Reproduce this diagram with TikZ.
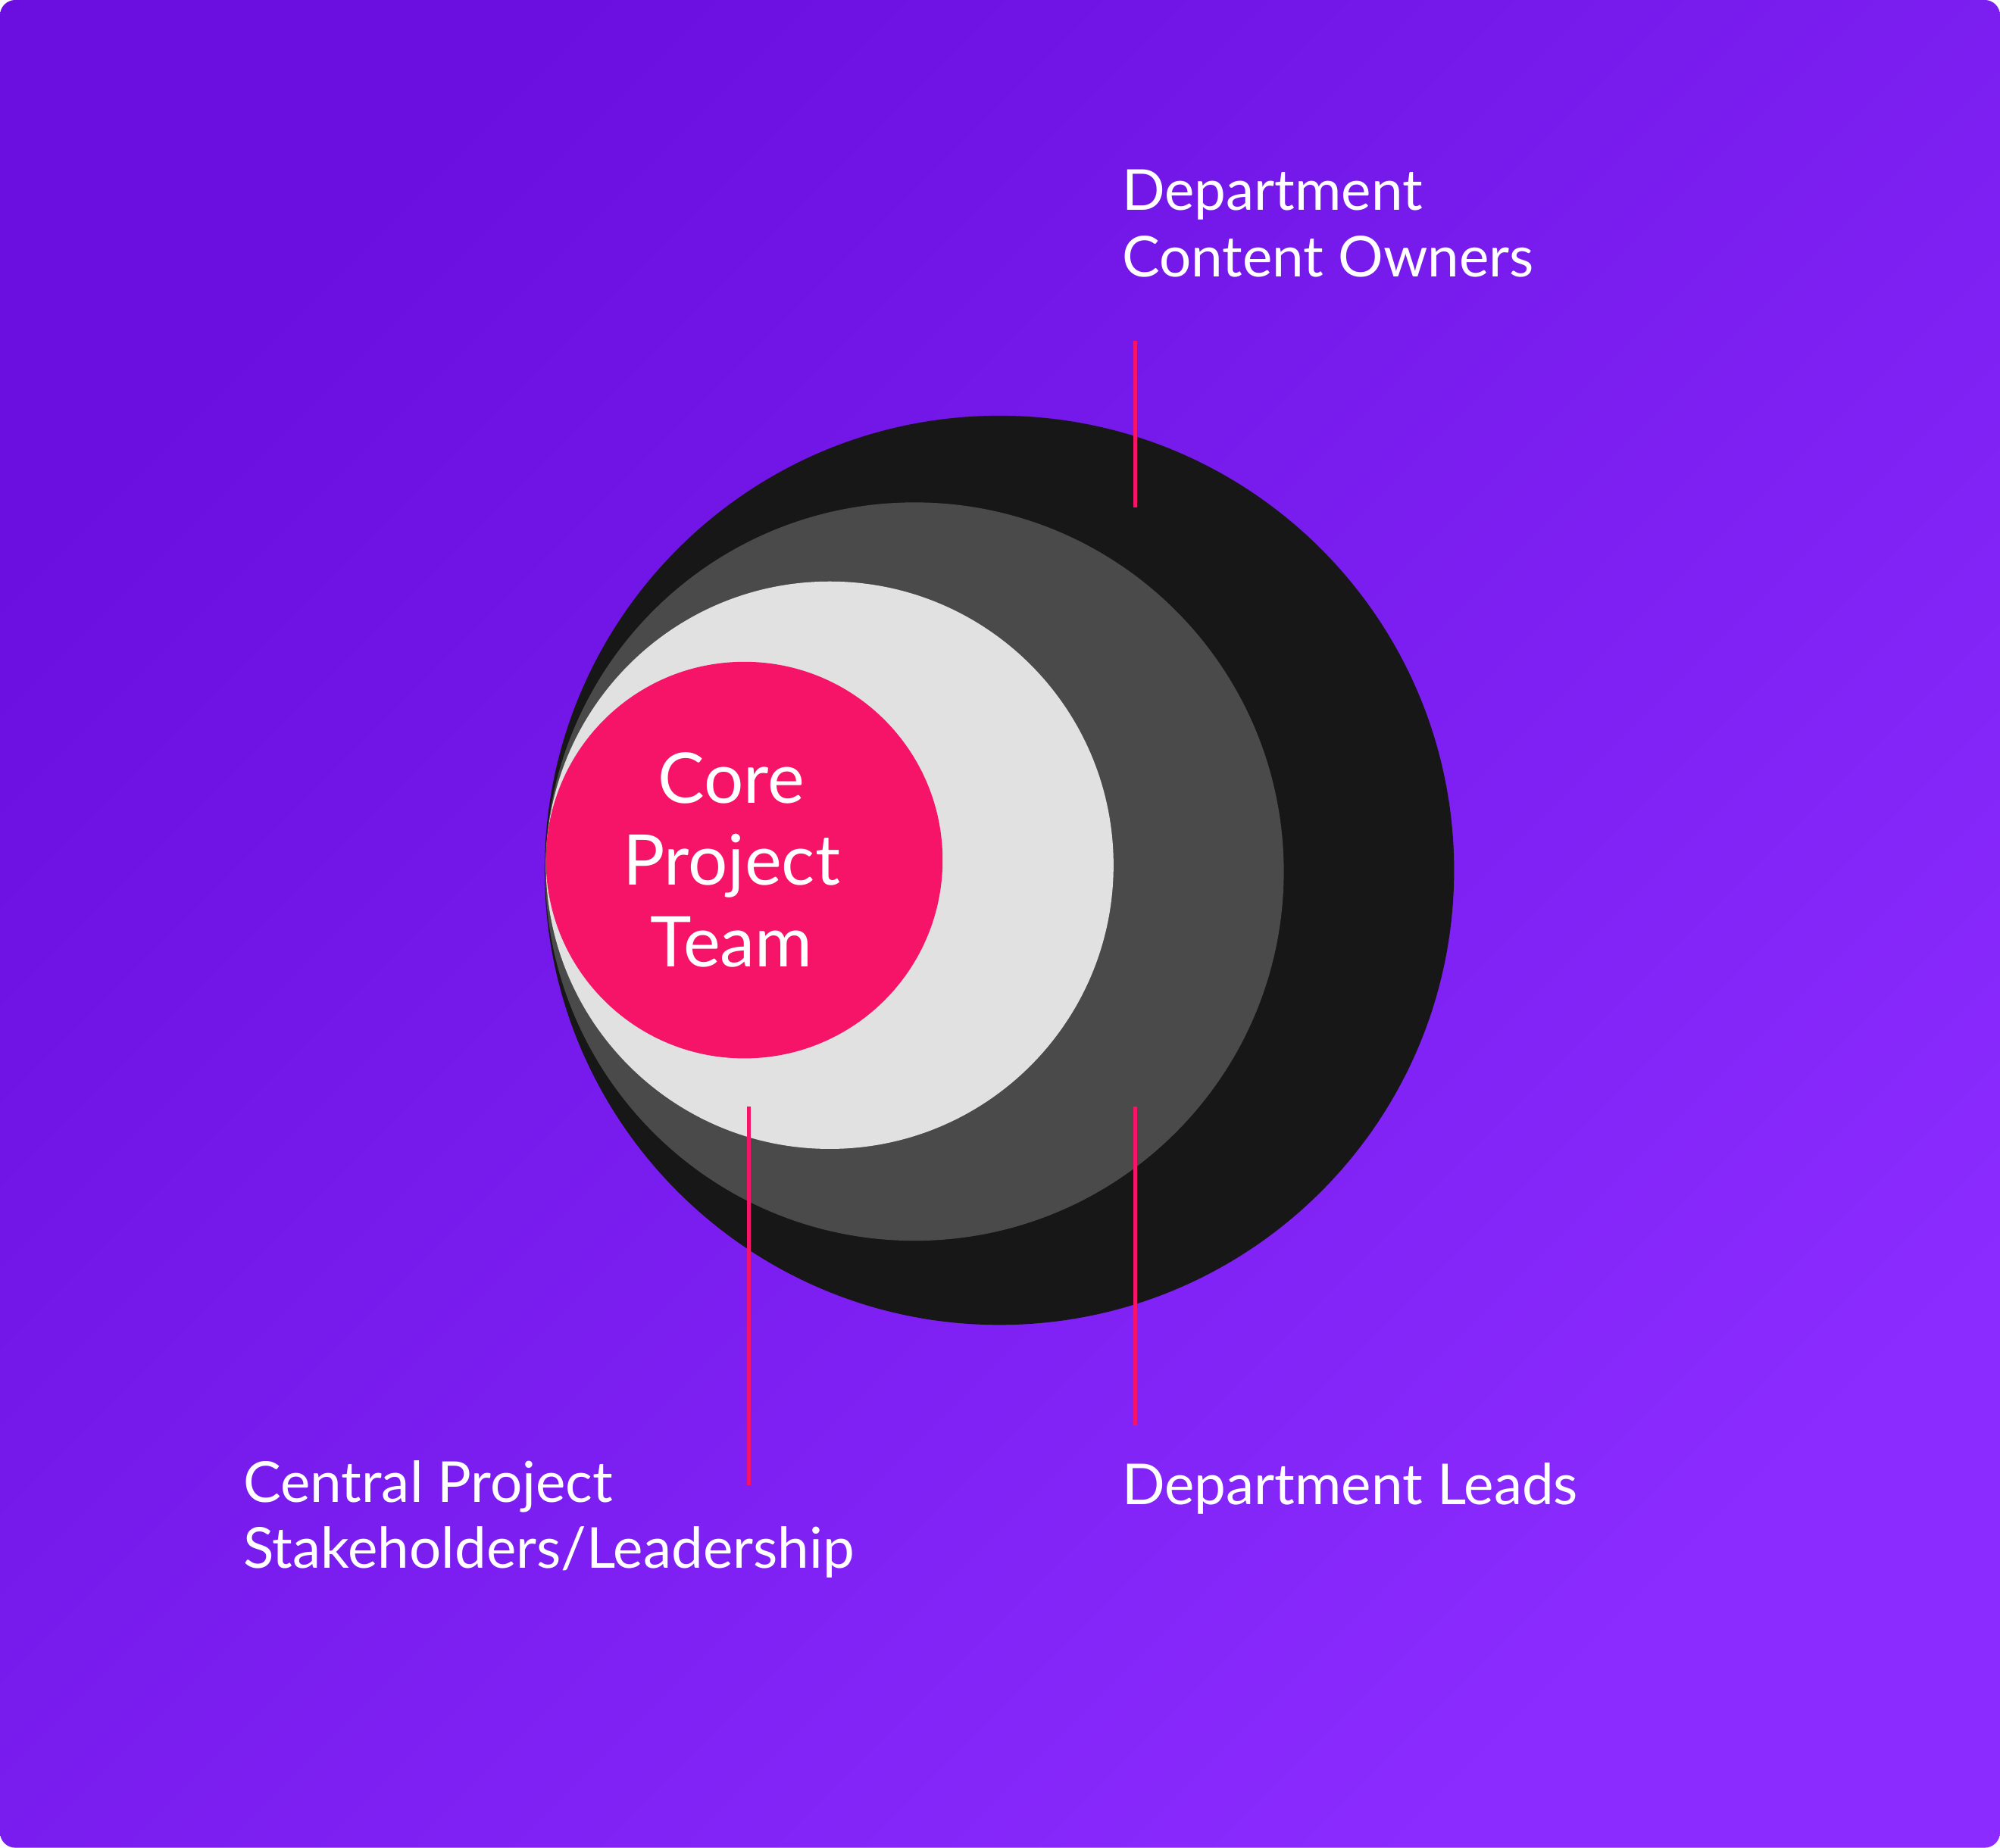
\documentclass[tikz,border=0pt]{standalone}
\usepackage{fontspec}
\setmainfont{Lato}
\usetikzlibrary{positioning}
\definecolor{bgdark}{HTML}{6A0FE0}
\definecolor{bglight}{HTML}{8B2BFF}
\definecolor{ringouter}{HTML}{171717}
\definecolor{ringmid}{HTML}{4A4A4A}
\definecolor{ringinner}{HTML}{E1E1E1}
\definecolor{corepink}{HTML}{F51468}
\begin{document}
\begin{tikzpicture}[x=0.1mm,y=-0.1mm,
  ring/.style={circle,inner sep=0pt,outer sep=0pt,minimum size=#1},
  lead/.style={draw=corepink,line width=0.75pt},
  label/.style={text=white,anchor=base west,align=left,inner sep=0pt,
    font=\fontsize{12.6}{14.8}\selectfont}]
\useasboundingbox (0,0) rectangle (1568,1449);
\shade[rounded corners=1.2mm,top color=bgdark,bottom color=bglight,shading angle=45]
  (0,0) rectangle (1568,1449);
% rings, from the outside in
\node [ring=71.3mm,fill=ringouter] (outer) at (783.5,682.5) {};
\node [ring=57.9mm,fill=ringmid] (mid) at (717,683.5) {};
\node [ring=44.5mm,fill=ringinner] (inner) at (650.5,678.5) {};
\node [ring=31.1mm,fill=corepink] (core) at (583.5,674.5) {};
\node [text=white,align=center,inner sep=0pt,font=\fontsize{15.6}{18.2}\selectfont]
  (coretxt) at ([xshift=-1mm]core.center) {Core\\Project\\Team};
% labels (base = last line)
\node [label] (owners) at (879,217) {Department\\Content Owners};
\node [label] (central) at (190,1230) {Central Project\\Stakeholders/Leadership};
\node [label] (leads) at (879,1180) {Department Leads};
% leader lines
\coordinate (o1) at (890,267);
\coordinate (o2) at (890,398);
\coordinate (c1) at (587,868);
\coordinate (c2) at (587,1165);
\coordinate (l1) at (890,868);
\coordinate (l2) at (890,1118);
\draw [lead] (o1) -- (o2);
\draw [lead] (c1) -- (c2);
\draw [lead] (l1) -- (l2);
\end{tikzpicture}
\end{document}
